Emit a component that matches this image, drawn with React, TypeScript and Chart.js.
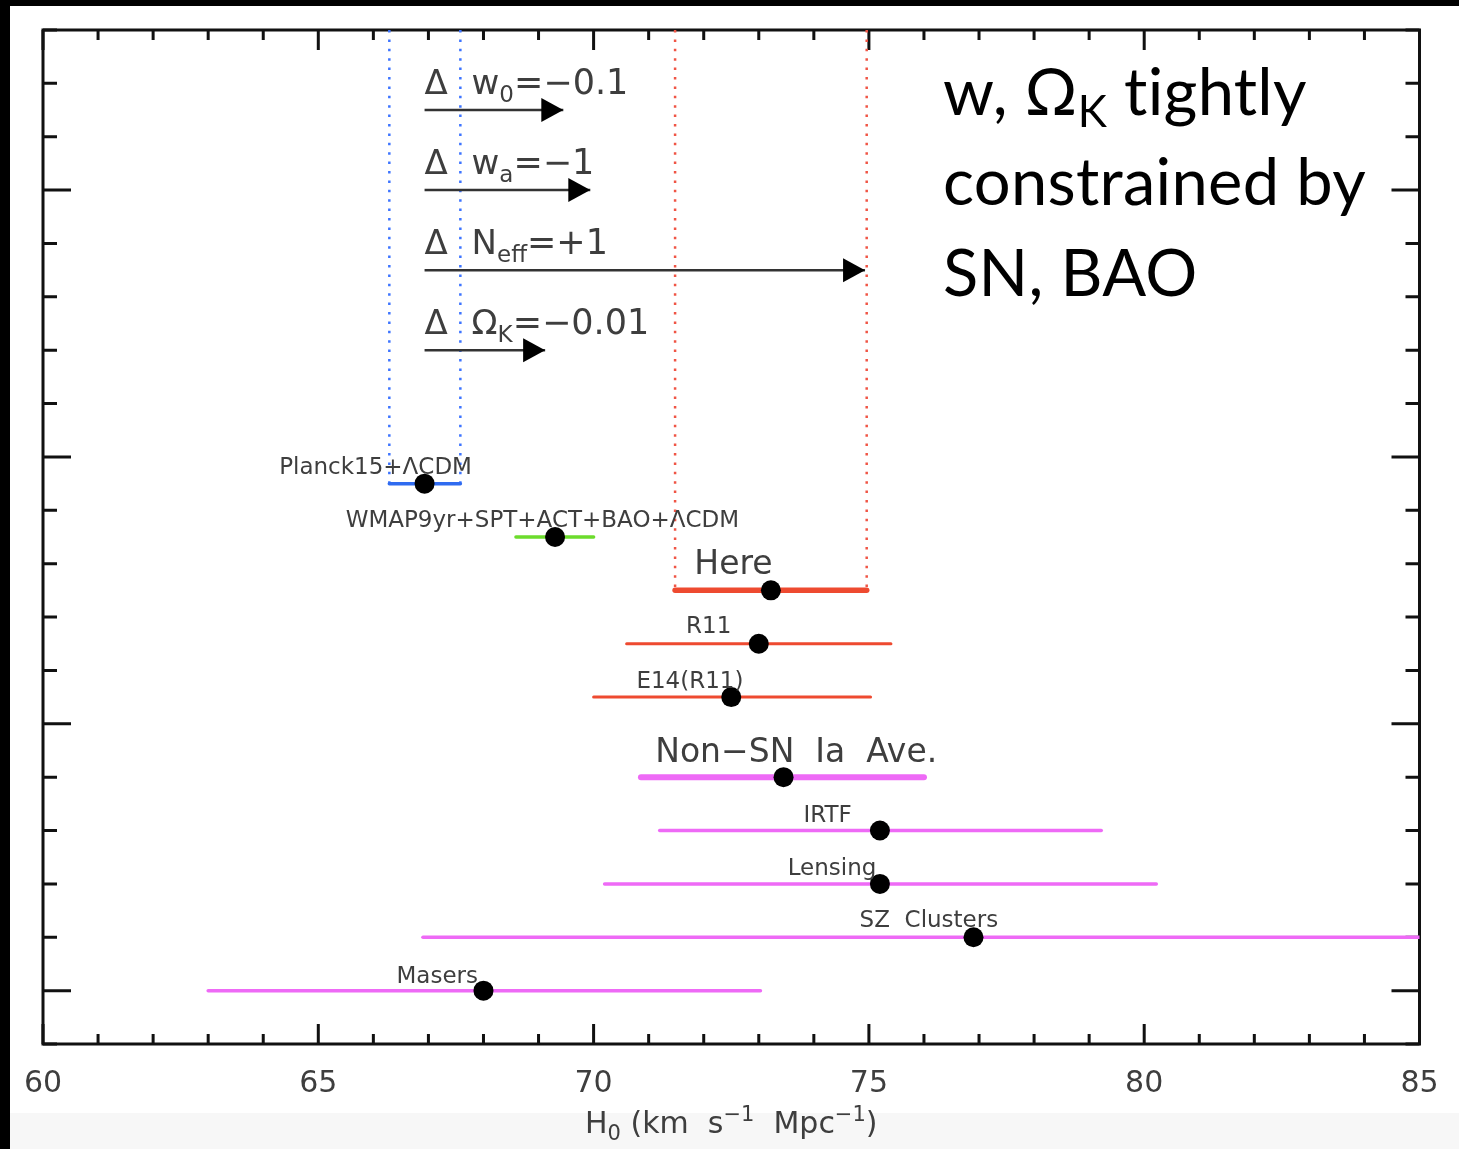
import React, { useEffect, useRef } from 'react';
import { Chart, registerables } from 'chart.js';
Chart.register(...registerables);

// ---- data ----
const measurementLabels = ['Planck15+ΛCDM', 'WMAP9yr+SPT+ACT+BAO+ΛCDM', 'Here', 'R11', 'E14(R11)', 'Non−SN  Ia  Ave.', 'IRTF', 'Lensing', 'SZ  Clusters', 'Masers'];
const rows = [10.5, 9.5, 8.5, 7.5, 6.5, 5, 4, 3, 2, 1];
const centers = [66.93, 69.3, 73.22, 73.0, 72.5, 73.45, 75.2, 75.2, 76.9, 68.0];
const lows = [66.29, 68.59, 71.48, 70.6, 70.0, 70.86, 71.2, 70.2, 66.9, 63.0];
const highs = [67.58, 70.0, 74.96, 75.4, 75.03, 76.0, 79.22, 80.22, 85.0, 73.03];
const labelX = [66.04, 69.07, 72.54, 72.09, 71.75, 73.68, 74.25, 74.33, 76.09, 67.16];

const arrowRows = [17.5, 16, 14.5, 13];
const arrowEnds = [69.45, 69.94, 74.93, 69.12];
const arrowMain = ['w', 'w', 'N', 'Ω'];
const arrowSub = ['0', 'a', 'eff', 'K'];
const arrowRest = ['=−0.1', '=−1', '=+1', '=−0.01'];

const xTickLabels = [60, 65, 70, 75, 80, 85];

// ---- style ----
const barColors = ['#2f6bf0', '#6cdc2c', '#ee4a30', '#ee4a30', '#ee4a30', '#ee6af6', '#ee6af6', '#ee6af6', '#ee6af6', '#ee6af6'];
const barWidths = [3.5, 3.5, 5.5, 3, 3, 6, 3.5, 3.5, 3.5, 3.5];
const labelSizes = [23, 23, 33, 23, 23, 33, 23, 23, 23, 23];
const labelOffsets = [10, 10, 16, 11, 9, 15, 9, 9, 10, 8];
const SMALL_FONT = '"DejaVu Sans", sans-serif';
const BIG_FONT = 'Lato, "Noto Sans", sans-serif';
const TEXT_GRAY = '#3e3e3e';

type Seg = { t: string; s: number; dy?: number };

function segWidth(ctx: CanvasRenderingContext2D, segs: Seg[], family: string) {
  let w = 0;
  for (const g of segs) {
    ctx.font = `${g.s}px ${family}`;
    w += ctx.measureText(g.t).width;
  }
  return w;
}

function drawSegs(ctx: CanvasRenderingContext2D, segs: Seg[], x: number, y: number, family: string, align: 'left' | 'center') {
  let cx = x;
  if (align === 'center') cx = x - segWidth(ctx, segs, family) / 2;
  ctx.textAlign = 'left';
  ctx.textBaseline = 'alphabetic';
  for (const g of segs) {
    ctx.font = `${g.s}px ${family}`;
    ctx.fillText(g.t, cx, y + (g.dy || 0));
    cx += ctx.measureText(g.t).width;
  }
}

const decoPlugin = {
  id: 'deco',
  beforeDraw(chart: any) {
    const { ctx, width, height, chartArea: a } = chart;
    ctx.save();
    ctx.fillStyle = '#000';
    ctx.fillRect(0, 0, width, height);
    ctx.fillStyle = '#fff';
    ctx.fillRect(10, 6, width - 10, height - 6);
    ctx.fillStyle = '#f7f7f7';
    ctx.fillRect(10, a.bottom + 69, width - 10, height - a.bottom - 69);
    ctx.restore();
  },
  beforeDatasetsDraw(chart: any) {
    const { ctx, chartArea: a, scales } = chart;
    const x = scales.x;
    const y = scales.y;
    ctx.save();
    // frame
    ctx.strokeStyle = '#111';
    ctx.lineWidth = 3;
    ctx.strokeRect(a.left, a.top, a.right - a.left, a.bottom - a.top);
    ctx.beginPath();
    for (let v = 60; v <= 85; v++) {
      const px = x.getPixelForValue(v);
      const len = v % 5 === 0 ? 20 : 10;
      ctx.moveTo(px, a.bottom);
      ctx.lineTo(px, a.bottom - len);
      ctx.moveTo(px, a.top);
      ctx.lineTo(px, a.top + len);
    }
    for (let v = 0; v <= 19; v++) {
      const py = y.getPixelForValue(v);
      const len = v % 5 === 1 ? 28 : 14;
      ctx.moveTo(a.left, py);
      ctx.lineTo(a.left + len, py);
      ctx.moveTo(a.right, py);
      ctx.lineTo(a.right - len, py);
    }
    ctx.stroke();
    ctx.restore();
  },
  afterDatasetsDraw(chart: any) {
    const { ctx, chartArea: a, scales } = chart;
    const x = scales.x;
    const y = scales.y;
    ctx.save();

    // arrowheads
    ctx.fillStyle = '#000';
    arrowRows.forEach((r, i) => {
      const tx = x.getPixelForValue(arrowEnds[i]);
      const ty = y.getPixelForValue(r);
      ctx.beginPath();
      ctx.moveTo(tx, ty);
      ctx.lineTo(tx - 22, ty - 12);
      ctx.lineTo(tx - 22, ty + 12);
      ctx.closePath();
      ctx.fill();
    });

    // tick labels
    ctx.fillStyle = TEXT_GRAY;
    ctx.font = `30px ${SMALL_FONT}`;
    ctx.textAlign = 'center';
    ctx.textBaseline = 'alphabetic';
    xTickLabels.forEach((v) => {
      ctx.fillText(String(v), x.getPixelForValue(v), a.bottom + 48);
    });

    // axis title
    drawSegs(ctx, [
      { t: 'H', s: 30 },
      { t: '0', s: 21, dy: 7 },
      { t: ' (km  s', s: 30 },
      { t: '−1', s: 21, dy: -12 },
      { t: '  Mpc', s: 30 },
      { t: '−1', s: 21, dy: -12 },
      { t: ')', s: 30 },
    ], (a.left + a.right) / 2, a.bottom + 89, SMALL_FONT, 'center');

    // measurement labels
    measurementLabels.forEach((t, i) => {
      drawSegs(ctx, [{ t, s: labelSizes[i] }], x.getPixelForValue(labelX[i]), y.getPixelForValue(rows[i]) - labelOffsets[i], SMALL_FONT, 'center');
    });

    // arrow labels
    arrowRows.forEach((r, i) => {
      const lx = x.getPixelForValue(centers[0]);
      const ly = y.getPixelForValue(r) - 16;
      drawSegs(ctx, [{ t: 'Δ', s: 34 }], lx, ly, SMALL_FONT, 'left');
      drawSegs(ctx, [
        { t: arrowMain[i], s: 34 },
        { t: arrowSub[i], s: 23, dy: 8 },
        { t: arrowRest[i], s: 35 },
      ], lx + 47, ly, SMALL_FONT, 'left');
    });

    // big annotation
    ctx.fillStyle = '#000';
    (ctx as any).letterSpacing = '0.3px';
    const bx = 943;
    drawSegs(ctx, [
      { t: 'w, Ω', s: 65 },
      { t: 'K', s: 44, dy: 12 },
      { t: ' tightly', s: 65 },
    ], bx, 115, BIG_FONT, 'left');
    drawSegs(ctx, [{ t: 'constrained by', s: 65 }], bx, 205, BIG_FONT, 'left');
    drawSegs(ctx, [{ t: 'SN, BAO', s: 65 }], bx, 296, BIG_FONT, 'left');
    (ctx as any).letterSpacing = '0px';

    ctx.restore();
  },
};

export default function App() {
  const ref = useRef<HTMLCanvasElement | null>(null);
  useEffect(() => {
    if (!ref.current) return;
    const datasets: any[] = [];
    // dots
    datasets.push({
      data: rows.map((r, i) => ({ x: centers[i], y: r })),
      showLine: false,
      pointRadius: 10,
      pointBackgroundColor: '#000',
      pointBorderWidth: 0,
      order: 0,
    });
    // error bars
    rows.forEach((r, i) => {
      datasets.push({
        data: [{ x: lows[i], y: r }, { x: highs[i], y: r }],
        borderColor: barColors[i],
        borderWidth: barWidths[i],
        borderCapStyle: 'round',
        pointRadius: 0,
        order: 1,
      });
    });
    // dotted verticals (Planck and Here ranges)
    [
      { v: lows[0], r: rows[0], c: '#3d74ff' },
      { v: highs[0], r: rows[0], c: '#3d74ff' },
      { v: lows[2], r: rows[2], c: '#f05545' },
      { v: highs[2], r: rows[2], c: '#f05545' },
    ].forEach((d) => {
      datasets.push({
        data: [{ x: d.v, y: 19 }, { x: d.v, y: d.r }],
        borderColor: d.c,
        borderWidth: 2.5,
        borderDash: [2.5, 6.9],
        pointRadius: 0,
        order: 2,
      });
    });
    // arrow shafts
    arrowRows.forEach((r, i) => {
      datasets.push({
        data: [{ x: centers[0], y: r }, { x: arrowEnds[i], y: r }],
        borderColor: '#333',
        borderWidth: 2.5,
        pointRadius: 0,
        order: 1,
      });
    });

    const chart = new Chart(ref.current, {
      type: 'line',
      data: { datasets },
      options: {
        animation: false,
        responsive: false,
        devicePixelRatio: 1,
        events: [],
        layout: { padding: { left: 43, top: 30, right: 39.5, bottom: 105 } },
        plugins: { legend: { display: false }, tooltip: { enabled: false } },
        scales: {
          x: { type: 'linear', min: 60, max: 85, display: false },
          y: { type: 'linear', min: 0, max: 19, display: false },
        },
      } as any,
      plugins: [decoPlugin as any],
    });
    return () => chart.destroy();
  }, []);

  return (
    <div style={{ position: 'absolute', left: 0, top: 0, width: 1459, height: 1149 }}>
      <canvas ref={ref} width={1459} height={1149} style={{ width: 1459, height: 1149, display: 'block' }} />
    </div>
  );
}
